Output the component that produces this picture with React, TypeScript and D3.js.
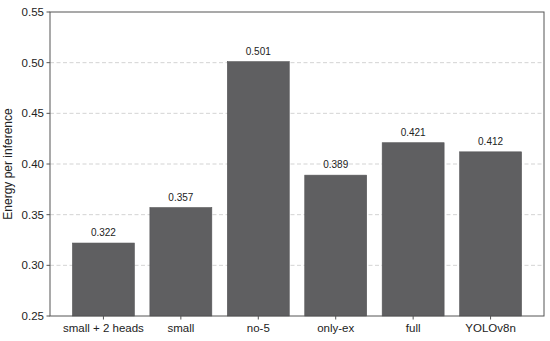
import React from 'react';
import * as d3 from 'd3';

const categories = ['small + 2 heads', 'small', 'no-5', 'only-ex', 'full', 'YOLOv8n'];
const energy = [0.322, 0.357, 0.501, 0.389, 0.421, 0.412];
const yTicks = [0.25, 0.3, 0.35, 0.4, 0.45, 0.5, 0.55];

const W = 550;
const H = 341;
const margin = { top: 12, right: 6, bottom: 25, left: 50 };

export default function App() {
  const innerW = W - margin.left - margin.right;
  const innerH = H - margin.top - margin.bottom;

  const x = d3.scaleBand<string>()
    .domain(categories)
    .range([0, innerW])
    .paddingInner(0.2)
    .paddingOuter(0.29);

  const y = d3.scaleLinear().domain([0.25, 0.55]).range([innerH, 0]);

  const font = 'Liberation Sans, Arial, sans-serif';
  const axisColor = '#555';

  return (
    <svg width={W} height={H} style={{ position: 'absolute', left: 0, top: 0 }}>
      <rect width={W} height={H} fill="#fff" />
      <g transform={`translate(${margin.left},${margin.top})`}>
        {/* grid */}
        {yTicks.slice(1, -1).map(t => (
          <line key={t} x1={0} x2={innerW} y1={y(t)} y2={y(t)}
            stroke="#c8c8c8" strokeWidth={0.8} strokeDasharray="4,2.5" />
        ))}
        {/* bars */}
        {categories.map((c, i) => (
          <g key={c}>
            <rect x={x(c)} y={y(energy[i])} width={x.bandwidth()} height={innerH - y(energy[i])}
              fill="#5f5f61" stroke="#555557" strokeWidth={0.6} />
            <text x={x(c)! + x.bandwidth() / 2} y={y(energy[i]) - 7} textAnchor="middle"
              fontFamily={font} fontSize={10} fill="#222">{energy[i].toFixed(3)}</text>
          </g>
        ))}
        {/* frame */}
        <rect x={0} y={0} width={innerW} height={innerH} fill="none" stroke={axisColor} strokeWidth={1} />
        {/* y ticks */}
        {yTicks.map(t => (
          <g key={t} transform={`translate(0,${y(t)})`}>
            <line x1={-3.5} x2={0} stroke={axisColor} />
            <text x={-6} dy="0.35em" textAnchor="end" fontFamily={font} fontSize={11.5} fill="#222">
              {t.toFixed(2)}
            </text>
          </g>
        ))}
        {/* x ticks */}
        {categories.map(c => (
          <g key={c} transform={`translate(${x(c)! + x.bandwidth() / 2},${innerH})`}>
            <line y1={0} y2={3.5} stroke={axisColor} />
            <text y={16} textAnchor="middle" fontFamily={font} fontSize={11.5} fill="#222">{c}</text>
          </g>
        ))}
        <text transform={`translate(${-38},${innerH / 2}) rotate(-90)`} textAnchor="middle"
          fontFamily={font} fontSize={12} fill="#222">Energy per inference</text>
      </g>
    </svg>
  );
}
